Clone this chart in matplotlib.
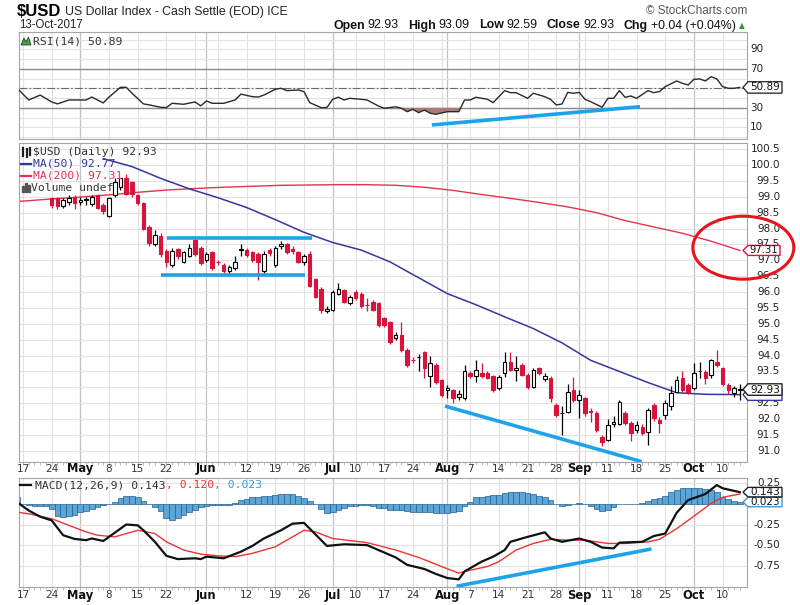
import numpy as np
import pandas as pd
import matplotlib
matplotlib.use('Agg')
import matplotlib.pyplot as plt
from matplotlib.patches import Polygon, Ellipse, Rectangle
from matplotlib.lines import Line2D
import matplotlib.transforms as mtransforms

W, H = 800, 605

# ---------------- data ----------------
holidays = ['2017-05-29', '2017-07-04', '2017-09-04', '2017-10-09']
dates = [d for d in pd.bdate_range('2017-04-17', '2017-10-13')
         if d.strftime('%Y-%m-%d') not in holidays]

candle_start = 5
opens = [98.95, 98.95, 98.70, 98.85, 99.00, 98.85, 98.90, 98.78, 99.05, 98.75,
         98.40, 99.05, 99.32, 99.58, 99.45, 99.05, 98.80, 98.05, 97.50, 97.75,
         97.30, 96.85, 97.35, 96.95, 97.15, 97.65, 97.40, 97.00, 97.27, 96.95,
         96.85, 96.65, 96.75, 97.32, 97.33, 97.27, 97.20, 96.65, 97.32, 96.85,
         97.45, 97.50, 97.35, 97.25, 96.95, 97.20, 96.40, 96.10, 95.40, 95.45,
         95.95, 96.05, 95.65, 96.00, 95.95, 95.60, 95.70, 95.65, 95.17, 95.07,
         94.55, 94.65, 94.18, 93.87, 93.95, 94.10, 93.35, 93.70, 93.23, 92.90,
         92.92, 92.70, 92.66, 93.45, 93.35, 93.45, 93.45, 93.35, 92.97, 93.45,
         93.81, 93.55, 93.70, 93.40, 93.02, 93.60, 93.25, 93.28, 92.44, 92.18,
         92.23, 92.92, 92.60, 92.65, 92.25, 92.18, 91.45, 91.34, 91.85, 91.83,
         92.18, 91.87, 91.66, 91.76, 91.60, 92.44, 91.98, 92.13, 92.40, 92.86,
         93.28, 93.07, 92.97, 93.50, 93.49, 93.39, 93.80, 93.60, 93.07, 92.81,
         92.93]
highs = [99.00, 98.99, 98.97, 99.05, 99.05, 99.00, 99.00, 99.05, 99.10, 98.80,
         99.00, 99.60, 99.60, 99.73, 99.50, 99.10, 98.85, 98.10, 97.95, 97.85,
         97.35, 97.40, 97.40, 97.30, 97.50, 97.70, 97.45, 97.25, 97.30, 97.00,
         96.90, 96.85, 97.15, 97.50, 97.38, 97.30, 97.25, 97.30, 97.38, 97.45,
         97.60, 97.55, 97.45, 97.30, 97.20, 97.30, 96.45, 96.15, 95.55, 96.05,
         96.30, 96.10, 95.90, 96.05, 96.00, 95.80, 95.75, 95.70, 95.22, 95.10,
         94.75, 95.05, 94.25, 93.95, 94.05, 94.15, 94.00, 93.75, 93.25, 93.07,
         92.95, 92.90, 93.70, 93.50, 93.85, 93.75, 93.50, 93.40, 93.40, 94.10,
         94.10, 94.00, 93.75, 93.45, 93.60, 93.65, 93.45, 93.35, 92.50, 92.40,
         93.12, 93.33, 92.90, 92.70, 92.35, 92.25, 91.50, 92.00, 92.10, 92.60,
         92.25, 91.95, 91.95, 91.85, 92.35, 92.50, 92.05, 92.60, 93.05, 93.35,
         93.50, 93.15, 93.75, 93.80, 93.55, 93.90, 94.17, 93.65, 93.15, 93.05,
         93.09]
lows = [98.64, 98.60, 98.63, 98.75, 98.60, 98.75, 98.75, 98.70, 98.60, 98.45,
        98.35, 99.00, 99.20, 99.05, 99.00, 98.75, 97.95, 97.45, 97.45, 97.10,
        96.80, 96.80, 97.05, 96.90, 97.10, 97.15, 96.85, 96.95, 96.70, 96.85,
        96.60, 96.55, 96.70, 97.15, 97.10, 96.95, 96.38, 96.60, 97.15, 96.80,
        97.35, 97.20, 97.20, 96.90, 96.85, 96.15, 95.80, 95.35, 95.33, 95.40,
        95.90, 95.65, 95.60, 95.75, 95.50, 95.40, 95.40, 94.90, 94.90, 94.35,
        94.50, 94.10, 93.65, 93.75, 93.50, 93.30, 93.00, 93.10, 92.70, 92.65,
        92.50, 92.60, 92.60, 93.30, 93.18, 93.30, 93.25, 92.85, 92.90, 93.34,
        93.50, 93.20, 93.35, 92.95, 92.98, 93.38, 93.20, 92.55, 92.05, 91.50,
        92.20, 92.55, 92.02, 92.10, 91.90, 91.60, 91.15, 91.30, 91.75, 91.80,
        91.80, 91.30, 91.55, 91.50, 91.19, 91.95, 91.55, 92.00, 92.30, 92.85,
        92.85, 92.80, 92.90, 93.28, 93.10, 93.30, 93.65, 93.05, 92.80, 92.70,
        92.59]
closes = [98.74, 98.70, 98.90, 98.95, 98.80, 98.90, 98.92, 99.00, 98.65, 98.55,
          98.95, 99.47, 99.58, 99.10, 99.10, 98.80, 98.00, 97.55, 97.80, 97.20,
          96.95, 97.30, 97.15, 97.25, 97.40, 97.20, 96.90, 97.20, 96.75, 96.93,
          96.65, 96.80, 96.95, 97.35, 97.17, 97.00, 96.95, 97.20, 97.22, 97.38,
          97.50, 97.27, 97.30, 96.95, 97.15, 96.20, 95.85, 95.45, 95.48, 96.00,
          96.10, 95.70, 95.85, 95.80, 95.55, 95.58, 95.45, 94.95, 94.96, 94.44,
          94.65, 94.18, 93.70, 93.85, 93.97, 93.60, 93.75, 93.18, 92.76, 92.97,
          92.65, 92.80, 93.50, 93.35, 93.55, 93.35, 93.30, 92.92, 93.34, 93.81,
          93.55, 93.60, 93.40, 93.02, 93.55, 93.44, 93.37, 92.65, 92.13, 92.20,
          92.86, 92.60, 92.75, 92.18, 92.22, 91.65, 91.29, 91.82, 91.90, 92.55,
          91.87, 91.55, 91.80, 91.55, 92.28, 92.02, 91.87, 92.50, 92.81, 93.23,
          92.92, 92.86, 93.44, 93.52, 93.28, 93.86, 93.70, 93.12, 92.92, 92.97,
          92.93]

ma50_idx = [14, 19, 24, 29, 34, 39, 44, 49, 54, 59, 64, 69, 74, 79, 84, 89,
            94, 99, 104, 109, 114, 119, 125]
ma50_val = [100.20, 99.95, 99.58, 99.25, 98.97, 98.66, 98.28, 97.88, 97.56,
            97.32, 96.95, 96.45, 95.95, 95.60, 95.22, 94.85, 94.40, 93.85,
            93.50, 93.15, 92.83, 92.78, 92.77]
ma200_idx = [-1, 5, 10, 15, 20, 25, 30, 35, 40, 45, 50, 55, 60, 65, 70, 75,
             80, 85, 90, 95, 100, 105, 110, 115, 120, 125]
ma200_val = [98.85, 98.93, 98.99, 99.06, 99.14, 99.21, 99.26, 99.30, 99.33,
             99.36, 99.37, 99.38, 99.38, 99.36, 99.30, 99.20, 99.07, 98.95,
             98.82, 98.68, 98.50, 98.25, 98.05, 97.85, 97.60, 97.31]

rsi_idx = [-1, 1, 3, 5, 6, 8, 11, 12, 14, 15, 17, 18, 19, 21, 22, 24, 25, 26,
           28, 30, 31, 32, 33, 35, 37, 38, 40, 41, 42, 44, 45, 46, 48, 49, 50,
           52, 53, 54, 55, 56, 57, 59, 60, 62, 63, 65, 66, 67, 68, 69, 70, 71,
           72, 74, 76, 77, 78, 79, 81, 82, 84, 85, 86, 88, 89, 91, 92, 93, 94,
           95, 96, 97, 98, 99, 101, 102, 103, 104, 105, 106, 107, 109, 110,
           111, 112, 114, 115, 116, 117, 118, 119, 120, 121, 122, 123, 124, 125]
rsi_val = [50, 38, 43, 36, 34, 38, 38, 41, 35, 41, 51, 51, 45, 34, 33, 30.5,
           30.2, 34.6, 33.6, 36, 32, 37, 34.6, 34.6, 38, 44, 41.4, 41, 43, 49,
           50, 47.6, 48.3, 46.6, 35.3, 30.1, 30.3, 38.7, 40.8, 38, 39.7, 38.7,
           38, 31.8, 29.5, 31, 29.5, 26, 28.4, 25, 27.7, 24.4, 23.4, 26, 26, 38,
           38, 40.8, 38.7, 35.3, 47.6, 45.5, 45.5, 39.7, 44.9, 41.4, 38.7, 32.9,
           33.9, 45.8, 44.9, 45.8, 38.7, 36.3, 30.5, 39.7, 39.7, 47.6, 40.8,
           42.1, 39.7, 47.6, 45.5, 46.6, 51.7, 57.5, 55.1, 53.4, 59.2, 59.6,
           57.5, 61.9, 59.6, 51.7, 50, 50, 50.89]

macd_idx = [-1, 1, 3, 5, 7, 9, 11, 12, 14, 15, 18, 20, 21, 23, 25, 27, 30, 31,
            32, 35, 38, 40, 42, 45, 47, 49, 50, 53, 56, 60, 62, 65, 67, 70, 72,
            74, 76, 77, 80, 82, 84, 85, 88, 91, 92, 94, 97, 99, 101, 103, 104,
            108, 110, 112, 114, 116, 119, 121, 122, 125]
macd_val = [0.02, -0.08, -0.155, -0.20, -0.38, -0.425, -0.44, -0.42, -0.45,
            -0.40, -0.25, -0.26, -0.32, -0.46, -0.63, -0.67, -0.66, -0.67,
            -0.64, -0.66, -0.58, -0.51, -0.42, -0.32, -0.24, -0.23, -0.30,
            -0.51, -0.49, -0.50, -0.56, -0.65, -0.74, -0.79, -0.85, -0.90,
            -0.916, -0.82, -0.70, -0.64, -0.56, -0.46, -0.40, -0.345, -0.42,
            -0.46, -0.42, -0.46, -0.53, -0.54, -0.47, -0.46, -0.39, -0.36,
            -0.107, 0.047, 0.12, 0.229, 0.19, 0.143]
signal_idx = [-1, 1, 5, 8, 11, 13, 16, 18, 20, 23, 25, 28, 31, 34, 37, 40, 44,
              47, 49, 51, 54, 60, 65, 69, 73, 76, 77, 81, 83, 86, 89, 92, 95,
              98, 102, 105, 109, 111, 114, 117, 120, 122, 125]
signal_val = [-0.10, -0.12, -0.18, -0.26, -0.34, -0.38, -0.40, -0.36, -0.32,
              -0.36, -0.46, -0.56, -0.61, -0.63, -0.64, -0.60, -0.52, -0.40,
              -0.32, -0.34, -0.42, -0.47, -0.56, -0.65, -0.76, -0.84, -0.82,
              -0.76, -0.70, -0.56, -0.48, -0.43, -0.44, -0.44, -0.48, -0.48,
              -0.46, -0.43, -0.30, -0.15, 0.007, 0.08, 0.12]
hist_start = -1
hist_val = [0.09, 0.0, -0.01, -0.02, -0.02, -0.03, -0.06, -0.15, -0.155, -0.145,
            -0.13, -0.10, -0.09, -0.06, -0.04, -0.015, 0.0, 0.02, 0.07, 0.095,
            0.095, 0.08, 0.03, 0.0, -0.04, -0.09, -0.17, -0.19, -0.17, -0.13,
            -0.10, -0.07, -0.04, -0.02, -0.017, -0.017, -0.015, -0.01, 0.01,
            0.045, 0.065, 0.085, 0.09, 0.095, 0.10, 0.11, 0.12, 0.12, 0.12,
            0.10, 0.07, 0.04, -0.005, -0.06, -0.11, -0.095, -0.07, -0.05,
            -0.03, -0.02, -0.015, -0.015, -0.03, -0.05, -0.055, -0.07, -0.075,
            -0.075, -0.08, -0.095, -0.095, -0.095, -0.10, -0.11, -0.115,
            -0.115, -0.10, -0.09, -0.03, 0.02, 0.08, 0.09, 0.095, 0.11, 0.11,
            0.13, 0.145, 0.148, 0.14, 0.13, 0.12, 0.10, 0.085, 0.05, 0.0,
            -0.03, -0.01, 0.005, 0.01, 0.005, -0.02, -0.06, -0.08, -0.07,
            -0.04, 0.0, 0.0, 0.0, 0.0, 0.01, 0.04, 0.06, 0.07, 0.10, 0.15,
            0.17, 0.19, 0.19, 0.19, 0.19, 0.185, 0.175, 0.15, 0.09, 0.06,
            0.04, 0.023]

xtick_idx = [0, 5, 10, 15, 20, 25, 32, 39, 44, 49, 54, 58, 63, 68, 74, 78, 83,
             88, 93, 97, 102, 107, 112, 117, 122]
xtick_lbl = ['17', '24', 'May', '8', '15', '22', 'Jun', '12', '19', '26', 'Jul',
             '10', '17', '24', 'Aug', '7', '14', '21', '28', 'Sep', '11', '18',
             '25', 'Oct', '10']
week_lines = [0, 5, 10, 15, 20, 25, 30, 34, 39, 44, 49, 54, 58, 63, 68, 73, 78,
              83, 88, 93, 98, 102, 107, 112, 117, 122]
month_lines = [10, 32, 54, 74, 97, 117]

# 93.0 is hidden behind the close tag in the reference
price_ticks = [100.5, 100.0, 99.5, 99.0, 98.5, 98.0, 97.5, 97.0, 96.5, 96.0,
               95.5, 95.0, 94.5, 94.0, 93.5, 92.5, 92.0, 91.5, 91.0]
rsi_ticks = [90, 70, 30, 10]
macd_ticks = [0.25, -0.25, -0.50, -0.75]

header_left_title = '$USD'
header_left_sub = 'US Dollar Index - Cash Settle (EOD) ICE'
header_date = '13-Oct-2017'
header_quote = [('Open', True), ('92.93', False), ('High', True), ('93.09', False),
                ('Low', True), ('92.59', False), ('Close', True), ('92.93', False),
                ('Chg', True), ('+0.04 (+0.04%)', False)]

# annotation lines drawn by the chart author
rsi_trend = ([71.3, 107.6], [12.4, 31.1])
range_top = ([25.05, 50.35], [97.71, 97.71])
range_bot = ([24.07, 49.2], [96.54, 96.54])
price_trend = ([73.6, 107.9], [92.41, 90.66])
macd_trend = ([75.6, 109.6], [-1.0, -0.547])

# ---------------- figure ----------------
fig = plt.figure(figsize=(8, 6.05), dpi=100)
fig.patch.set_facecolor('white')

def fx(x):
    return x / W

def fy(y):
    return 1 - y / H

def axes_px(x0, y0, x1, y1):
    return fig.add_axes([x0 / W, 1 - y1 / H, (x1 - x0) / W, (y1 - y0) / H])

XMIN, XMAX = -0.645, 126.21
GRID = '#e2e2e2'
MGRID = '#c4c4c4'
CANDLE_RED = '#d8143c'
NAVY = '#35379c'
MA_RED = '#df3550'
TREND = '#1ba4ea'

def style(ax, ylim, hgrid):
    ax.set_xlim(XMIN, XMAX)
    ax.set_ylim(*ylim)
    ax.set_xticks([])
    ax.set_yticks([])
    for s in ax.spines.values():
        s.set_color('#a5a5a5')
        s.set_linewidth(0.8)
    for i in week_lines:
        ax.axvline(i, color=GRID, lw=0.8, zorder=0)
    for i in month_lines:
        ax.axvline(i, color=MGRID, lw=0.9, zorder=0)
    for v in hgrid:
        ax.axhline(v, color=GRID, lw=0.8, zorder=0)

ax_rsi = axes_px(19.3, 32.3, 746.7, 139)
ax_p = axes_px(19.3, 142.5, 746.7, 461.7)
ax_m = axes_px(19.3, 478.3, 746.7, 586.7)

style(ax_rsi, (-2.0, 107.4), list(range(0, 101, 10)))
style(ax_p, (90.658, 100.708), list(np.arange(91.0, 100.6, 0.5)))
style(ax_m, (-1.005, 0.311), [0.25, -0.25, -0.5, -0.75])

for ax in (ax_p, ax_m):
    ax.set_xticks(np.arange(0, 126), minor=True)
    ax.tick_params(axis='x', which='minor', length=2.2, color='#b0b0b0', width=0.6)

# ---- RSI panel ----
ax_rsi.axhline(70, color='#8a8a8a', lw=1.0, zorder=1)
ax_rsi.axhline(30, color='#8a8a8a', lw=1.0, zorder=1)
ax_rsi.axhline(50, color='#6a6a6a', lw=0.8, ls=(0, (7, 2, 1.5, 2)), zorder=1)
rx = np.array(rsi_idx, dtype=float)
ry = np.array(rsi_val, dtype=float)
ax_rsi.fill_between(rx, ry, 30, where=ry < 30, interpolate=True,
                    color='#ad7b77', zorder=2, lw=0)
ax_rsi.plot(rx, ry, color='#2a2a2a', lw=1.0, zorder=3)
ax_rsi.plot(*rsi_trend, color=TREND, lw=2.6, solid_capstyle='butt', zorder=4)

# ---- Price panel ----
ax_p.plot(ma200_idx, ma200_val, color=MA_RED, lw=1.0, zorder=2)
ax_p.plot(ma50_idx, ma50_val, color=NAVY, lw=1.1, zorder=2)
for k in range(len(opens)):
    i = candle_start + k
    o, h, l, c = opens[k], highs[k], lows[k], closes[k]
    up = c >= o
    col = 'black' if up else CANDLE_RED
    ax_p.vlines(i, l, h, colors=col, lw=0.9, zorder=3)
    body = max(abs(c - o), 0.02)
    ax_p.bar(i, body, bottom=min(o, c), width=0.62,
             facecolor='white' if up else CANDLE_RED,
             edgecolor=col, linewidth=0.8, zorder=4)
for seg in (range_top, range_bot, price_trend):
    ax_p.plot(*seg, color=TREND, lw=2.6, solid_capstyle='butt', zorder=5)

# ---- MACD panel ----
hx = np.arange(hist_start, hist_start + len(hist_val))
ax_m.bar(hx, hist_val, width=1.0, facecolor='#5ba6d6', edgecolor='#24608f',
         linewidth=0.5, zorder=2)
ax_m.plot(signal_idx, signal_val, color='#f03232', lw=1.0, zorder=3)
ax_m.plot(macd_idx, macd_val, color='#111111', lw=1.6, zorder=4)
ax_m.plot(*macd_trend, color=TREND, lw=2.6, solid_capstyle='butt', zorder=5)

# ---- right axis labels ----
def right_labels(ax, vals, fmt, x_px, ha):
    tr = mtransforms.blended_transform_factory(fig.transFigure, ax.transData)
    for v in vals:
        ax.text(fx(x_px), v, fmt(v), transform=tr, ha=ha, va='center',
                fontsize=7.5, color='#222222', clip_on=False, family='DejaVu Sans')

right_labels(ax_rsi, rsi_ticks, lambda v: f'{v:d}', 750, 'left')
right_labels(ax_p, price_ticks, lambda v: f'{v:.1f}', 780, 'right')
right_labels(ax_m, macd_ticks, lambda v: f'{v:.2f}', 780, 'right')

# ---- x labels ----
for ax, ypx in ((ax_p, 468.5), (ax_m, 595.5)):
    tr = mtransforms.blended_transform_factory(ax.transData, fig.transFigure)
    for i, lbl in zip(xtick_idx, xtick_lbl):
        bold = lbl.isalpha()
        ax.text(i, fy(ypx), lbl, transform=tr, ha='center', va='center',
                fontsize=8.3 if bold else 7.5,
                fontweight='bold' if bold else 'normal',
                color='#111111' if bold else '#333333', clip_on=False)

# ---- value tags ----
def tag(ax, val, text, ec, x0=743, x1=782, h=11.5, z=10, fs=7.5):
    disp = ax.transData.transform((0, val))
    yc = H - disp[1]
    pts = [(x0, yc), (x0 + 5, yc - h / 2), (x1, yc - h / 2),
           (x1, yc + h / 2), (x0 + 5, yc + h / 2)]
    poly = Polygon([(fx(a), fy(b)) for a, b in pts], closed=True,
                   transform=fig.transFigure, facecolor='white',
                   edgecolor=ec, lw=1.0, zorder=z)
    fig.add_artist(poly)
    if text:
        fig.text(fx((x0 + x1) / 2 + 2.5), fy(yc), text, ha='center', va='center',
                 fontsize=fs, color='#111111', zorder=z + 0.5)

tag(ax_rsi, 50.89, '50.89', '#333333')
tag(ax_p, 97.31, '97.31', '#e0103a', x1=780, h=10.0, fs=7.2)
tag(ax_p, 92.77, '', NAVY, z=10)
tag(ax_p, 92.93, '92.93', '#222222', z=11)
tag(ax_m, 0.023, '0.023', '#3a9ad9', h=9.5, z=10)
tag(ax_m, 0.143, '0.143', '#222222', h=9.5, z=11)

# red ellipse
fig.add_artist(Ellipse((fx(743.3), fy(247.7)), 101 / W, 63 / H,
                       transform=fig.transFigure, fill=False,
                       edgecolor='#e8151d', lw=2.2, zorder=12))

# ---- header ----
HF = ['Liberation Sans', 'DejaVu Sans']
fig.canvas.draw()
r = fig.canvas.get_renderer()

t_title = fig.text(fx(17), fy(12), header_left_title, fontsize=12,
                   fontweight='bold', family=HF, va='center', ha='left')
bb = t_title.get_window_extent(r)
fig.text((bb.x1 + 4) / W, fy(11.5), header_left_sub, fontsize=8.8,
         family=HF, va='center', ha='left', color='#222222')
fig.text(fx(19), fy(25.5), header_date, fontsize=8.3, family=HF, va='center',
         ha='left', color='#222222')
fig.text(fx(747), fy(11.5), '\u00a9 StockCharts.com', fontsize=8.5, family=HF,
         va='center', ha='right', color='#555555')

xcur = 333.0
for t, b in header_quote:
    txt = fig.text(fx(xcur), fy(25.5), t, fontsize=8.9, family=HF,
                   fontweight='bold' if b else 'normal', va='center', ha='left',
                   color='#111111')
    ext = txt.get_window_extent(r)
    xcur = ext.x1 + (3.0 if b else 9.0)
fig.text(fx(xcur - 6), fy(26), '\u25b2', fontsize=5.5, color='#2e9a3e',
         va='center', ha='left', family='DejaVu Sans')

# ---- panel legends ----
MONO = 'DejaVu Sans Mono'
LF = 8.2
fig.add_artist(Polygon([(fx(21), fy(45)), (fx(24), fy(38)), (fx(26), fy(42)),
                        (fx(28.5), fy(37)), (fx(31), fy(45))], closed=True,
                       transform=fig.transFigure, facecolor='#4f9a4f',
                       edgecolor='#1f4f1f', lw=0.6))
fig.text(fx(33), fy(41.5), 'RSI(14) 50.89', fontsize=LF, family=MONO,
         va='center', color='#333333')

for xx, yy0, yy1 in ((22.5, 147.5, 156), (26.5, 149, 157), (30, 148, 155)):
    fig.add_artist(Line2D([fx(xx), fx(xx)], [fy(yy0), fy(yy1)],
                          transform=fig.transFigure, color='#222222', lw=1.6))
fig.text(fx(33), fy(152), '$USD (Daily) 92.93', fontsize=LF, family=MONO,
         va='center', color='#333333')
fig.add_artist(Line2D([fx(21), fx(31)], [fy(164), fy(164)],
                      transform=fig.transFigure, color=NAVY, lw=1.6))
fig.text(fx(33), fy(164), 'MA(50) 92.77', fontsize=LF, family=MONO,
         va='center', color=NAVY)
fig.add_artist(Line2D([fx(21), fx(31)], [fy(176), fy(176)],
                      transform=fig.transFigure, color=MA_RED, lw=1.6))
fig.text(fx(33), fy(176), 'MA(200) 97.31', fontsize=LF, family=MONO,
         va='center', color=MA_RED)
for xx, yy0 in ((22, 186), (25, 183), (28, 185)):
    fig.add_artist(Rectangle((fx(xx), fy(192)), 2 / W, (192 - yy0) / H,
                             transform=fig.transFigure, color='#555555'))
fig.text(fx(31), fy(188), 'Volume undef', fontsize=LF, family=MONO,
         va='center', color='#333333')

fig.add_artist(Line2D([fx(20), fx(31)], [fy(485), fy(485)],
                      transform=fig.transFigure, color='#111111', lw=1.6))
t1 = fig.text(fx(35), fy(485), 'MACD(12,26,9) 0.143', fontsize=LF, family=MONO,
              va='center', color='#333333')
bb1 = t1.get_window_extent(r)
t2 = fig.text(bb1.x1 / W, fy(485), ', 0.120', fontsize=LF, family=MONO,
              color='#f03232', va='center')
bb2 = t2.get_window_extent(r)
fig.text(bb2.x1 / W, fy(485), ', 0.023', fontsize=LF, family=MONO,
         color='#3a9ad9', va='center')

fig.savefig('out.png', dpi=100, facecolor='white')
